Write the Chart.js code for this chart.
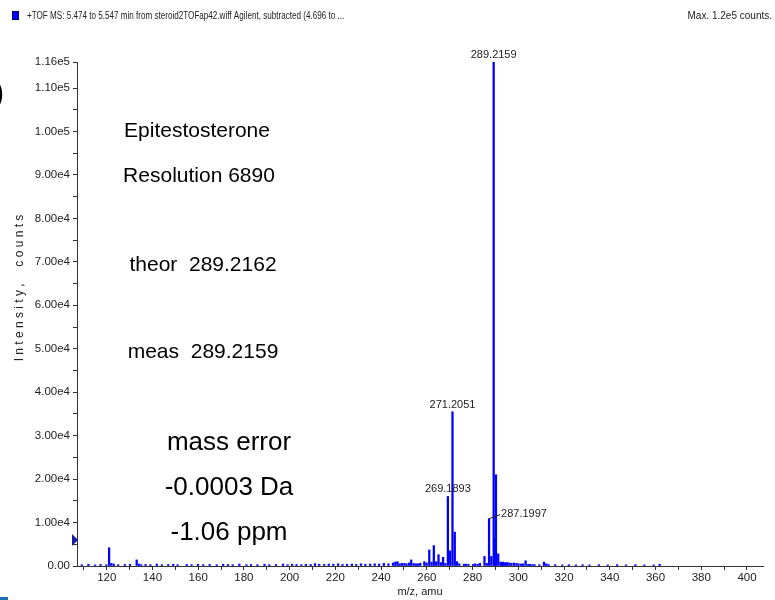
<!DOCTYPE html>
<html>
<head>
<meta charset="utf-8">
<script src="https://cdn.jsdelivr.net/npm/chart.js@4.4.1/dist/chart.umd.min.js"></script>
<style>
  html, body { margin: 0; padding: 0; background: #fff; }
  #wrap { width: 775px; height: 600px; }
</style>
</head>
<body>
<div id="wrap"><canvas id="spectrum" width="775" height="600"></canvas></div>
<script>
const FONT = "'Liberation Sans', Arial, sans-serif";
const BLUE = "#0000ff";
const INK = "#222222";

// main peaks, m/z and counts
const peakMz = [121.05, 122.05, 133.10, 134.10, 247.15, 249.10, 253.15, 255.20, 258.90,
    261.05, 262.05, 263.05, 264.10, 265.10, 266.10, 267.10, 268.10, 269.1893, 270.19,
    271.2051, 272.21, 273.20, 285.20, 286.20, 287.1997, 288.20, 289.2159, 289.70,
    290.22, 291.20, 292.20, 303.20, 304.20, 311.20, 312.20];
const peakCounts = [4200, 600, 1400, 450, 1000, 600, 1400, 500, 1000,
    3700, 900, 4700, 1000, 2600, 800, 2000, 600, 16000, 3500,
    35500, 7800, 1000, 2200, 600, 10900, 2200, 116000, 6200,
    21000, 2800, 900, 1200, 350, 900, 500];

// baseline noise
const noiseMz = [109.1, 112.0, 114.9, 117.3, 119.8, 123.1, 125.0, 127.9, 130.2, 135.1,
    137.0, 139.1, 141.9, 144.1, 146.9, 149.1, 151.0, 155.0, 157.1, 159.9,
    162.2, 165.0, 168.1, 170.9, 173.0, 175.1, 178.0, 181.1, 183.1, 185.9,
    189.0, 191.1, 194.0, 197.1, 199.1, 201.1, 203.0, 205.1, 207.1, 209.2,
    211.1, 212.9, 215.1, 217.1, 219.1, 221.2, 223.1, 225.1, 227.2, 229.1,
    231.2, 233.1, 235.2, 237.2, 239.1, 241.2, 243.2, 245.2, 246.2, 248.1,
    250.2, 251.1, 252.2, 254.2, 256.2, 257.1, 259.9, 274.2, 276.2, 277.1,
    278.2, 280.2, 281.1, 282.2, 283.2, 292.8, 293.2, 293.9, 294.5, 295.2,
    296.1, 297.0, 298.1, 299.2, 300.1, 301.2, 302.1, 305.1, 306.2, 307.1,
    309.2, 313.2, 316.1, 319.2, 322.1, 325.2, 328.1, 331.1, 335.2, 339.1,
    343.2, 347.1, 351.2, 355.1, 359.2, 361.8];
const noiseCounts = [300, 400, 250, 350, 300, 450, 300, 350, 400, 300,
    350, 300, 450, 300, 350, 400, 300, 350, 300, 400,
    300, 350, 300, 400, 350, 300, 450, 300, 350, 300,
    400, 300, 350, 450, 300, 400, 350, 300, 400, 350,
    550, 400, 350, 450, 400, 500, 350, 400, 450, 350,
    500, 400, 450, 500, 450, 600, 500, 700, 900, 500,
    600, 500, 700, 600, 500, 650, 700, 500, 400, 450,
    400, 350, 500, 400, 600, 800, 900, 800, 700, 800,
    700, 600, 700, 600, 500, 450, 500, 400, 350, 300,
    300, 350, 300, 250, 300, 250, 300, 250, 300, 250,
    300, 250, 300, 250, 250, 400];

const labelMz = [289.2159, 271.2051, 269.1893, 287.1997];
const markerCounts = 6000;

const xTickValues = [110, 120, 130, 140, 150, 160, 170, 180, 190, 200, 210, 220, 230, 240, 250,
    260, 270, 280, 290, 300, 310, 320, 330, 340, 350, 360, 370, 380, 390, 400];
const yTickValues = [0, 5000, 10000, 15000, 20000, 25000, 30000, 35000, 40000, 45000, 50000,
    55000, 60000, 65000, 70000, 75000, 80000, 85000, 90000, 95000, 100000, 105000, 110000, 116000];

// text boxes pasted on the spectrum
const notes = [
    { text: "Epitestosterone", x: 197, y: 131, size: 21 },
    { text: "Resolution 6890", x: 199, y: 176, size: 21 },
    { text: "theor  289.2162", x: 203, y: 265, size: 21 },
    { text: "meas  289.2159", x: 203, y: 352, size: 21 },
    { text: "mass error", x: 229, y: 443, size: 26 },
    { text: "-0.0003 Da", x: 229, y: 488, size: 26 },
    { text: "-1.06 ppm", x: 229, y: 533, size: 26 }
];

let spectrum = peakMz.map((mz, i) => ({ x: mz, y: peakCounts[i] }))
    .concat(noiseMz.map((mz, i) => ({ x: mz, y: noiseCounts[i] })));
spectrum.sort((a, b) => a.x - b.x);

function countsOf(mz) {
    return peakCounts[peakMz.indexOf(mz)];
}

function yLabel(v) {
    if (v === 0) return "0.00";
    if (v % 10000 !== 0 && v !== 116000) return "";
    return v.toExponential(2).replace("e+", "e");
}

// header, axis caption and the big notes
const decorations = {
    id: "decorations",
    afterDraw(chart) {
        const ctx = chart.ctx;
        const y = chart.scales.y;
        ctx.save();

        ctx.fillStyle = BLUE;
        ctx.fillRect(12, 11, 7, 9);
        ctx.strokeStyle = "#000066";
        ctx.lineWidth = 1;
        ctx.strokeRect(12.5, 11.5, 6, 8);

        ctx.fillStyle = INK;
        ctx.font = "10px " + FONT;
        ctx.textBaseline = "middle";
        // the run title is squeezed in the original
        ctx.save();
        ctx.translate(27, 16);
        ctx.scale(0.81, 1);
        ctx.textAlign = "left";
        ctx.fillText("+TOF MS: 5.474 to 5.547 min from steroid2TOFap42.wiff Agilent, subtracted (4.696 to ...", 0, 0);
        ctx.restore();
        ctx.textAlign = "right";
        ctx.fillText("Max. 1.2e5 counts.", 772, 16);

        ctx.save();
        ctx.translate(20, 288);
        ctx.rotate(-Math.PI / 2);
        ctx.textAlign = "center";
        ctx.font = "12px " + FONT;
        ctx.fillText("I n t e n s i t y ,     c o u n t s", 0, 0);
        ctx.restore();

        ctx.fillStyle = "#000";
        ctx.textAlign = "left";
        ctx.font = "34px " + FONT;
        ctx.fillText(")", -7, 94);

        ctx.textAlign = "center";
        notes.forEach(n => {
            ctx.font = n.size + "px " + FONT;
            ctx.fillText(n.text, n.x, n.y);
        });

        // threshold marker on the y axis
        const my = y.getPixelForValue(markerCounts);
        ctx.fillStyle = "#1a1aa8";
        ctx.beginPath();
        ctx.moveTo(72, my - 6);
        ctx.lineTo(78, my);
        ctx.lineTo(72, my + 6);
        ctx.closePath();
        ctx.fill();

        ctx.fillStyle = "#1f6fb0";
        ctx.fillRect(0, 597, 8, 3);
        ctx.restore();
    }
};

const peakLabels = {
    id: "peakLabels",
    afterDatasetsDraw(chart) {
        const { ctx, scales: { x, y } } = chart;
        ctx.save();
        ctx.font = "11px " + FONT;
        ctx.fillStyle = INK;
        ctx.strokeStyle = INK;
        ctx.lineWidth = 1;
        labelMz.forEach((mz, i) => {
            const px = x.getPixelForValue(mz);
            const py = y.getPixelForValue(countsOf(mz));
            const text = mz.toFixed(4);
            if (i === 3) {
                ctx.beginPath();
                ctx.moveTo(px, py);
                ctx.lineTo(px + 11, py - 4);
                ctx.stroke();
                ctx.textAlign = "left";
                ctx.textBaseline = "middle";
                ctx.fillText(text, px + 12, py - 5);
            } else {
                ctx.textAlign = "center";
                ctx.textBaseline = "alphabetic";
                ctx.fillText(text, px, py - 4);
            }
        });
        ctx.restore();
    }
};

new Chart(document.getElementById("spectrum"), {
    type: "bar",
    data: {
        datasets: [{
            data: spectrum,
            backgroundColor: BLUE,
            borderWidth: 0,
            barThickness: 1.6
        }]
    },
    options: {
        responsive: false,
        animation: false,
        layout: { padding: { top: 62, right: 12, left: 0, bottom: 0 } },
        plugins: { legend: { display: false }, tooltip: { enabled: false } },
        scales: {
            x: {
                type: "linear",
                min: 107,
                max: 407,
                offset: false,
                afterBuildTicks: s => { s.ticks = xTickValues.map(v => ({ value: v })); },
                afterFit: s => { s.height = 34; },
                border: { color: "#333", width: 1 },
                grid: { offset: false, drawOnChartArea: false, drawTicks: true, tickLength: 4, color: "#333" },
                ticks: {
                    font: { family: FONT, size: 11.5 },
                    color: INK,
                    padding: 1,
                    maxRotation: 0,
                    autoSkip: false,
                    callback: v => (v % 20 === 0 ? String(v) : "")
                },
                title: {
                    display: true,
                    text: "m/z, amu",
                    font: { family: FONT, size: 11 },
                    color: INK,
                    padding: { top: 0, bottom: 1 }
                }
            },
            y: {
                min: 0,
                max: 116000,
                afterBuildTicks: s => { s.ticks = yTickValues.map(v => ({ value: v })); },
                afterFit: s => { s.width = 77; },
                border: { color: "#333", width: 1 },
                grid: { drawOnChartArea: false, drawTicks: true, tickLength: 4, color: "#333" },
                ticks: {
                    font: { family: FONT, size: 11.5 },
                    color: INK,
                    padding: 3,
                    autoSkip: false,
                    callback: v => yLabel(v)
                }
            }
        }
    },
    plugins: [decorations, peakLabels]
});
</script>
</body>
</html>
